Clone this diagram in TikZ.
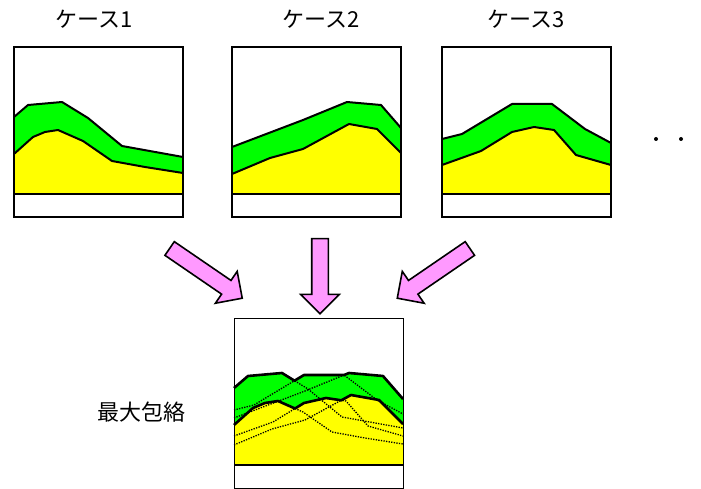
\documentclass[tikz,border=0pt]{standalone}
\usepackage{fontspec}
\newfontfamily\jpfont{Noto Sans CJK JP}
\usepackage{tikz}
\usetikzlibrary{shapes.arrows}
\definecolor{lime}{RGB}{0, 255, 0}
\definecolor{lemon}{RGB}{255, 255, 0}
\definecolor{rose}{RGB}{255, 153, 255}

% curves of each case, relative to the panel's top left corner
\def\greenone{(0,70) -- (14,58) -- (48,55) -- (74,71) -- (108,99) -- (169,110)}
\def\yellowone{(0,107) -- (19,90) -- (31,85) -- (44,83) -- (69,94) -- (98,114) -- (131,120) -- (169,126)}
\def\greentwo{(0,100) -- (71,73) -- (115,55) -- (149,58) -- (169,81)}
\def\yellowtwo{(0,127) -- (38,111) -- (71,102) -- (117,77) -- (145,82) -- (169,106)}
\def\greenthree{(0,92) -- (20,87) -- (70,57) -- (110,57) -- (143,82) -- (169,96)}
\def\yellowthree{(0,118) -- (39,104) -- (70,85) -- (92,80) -- (112,83) -- (134,108) -- (169,118)}
% upper envelopes
\def\greenmax{(0,70) -- (14,58) -- (48,55) -- (60.5,62.7) -- (70,57) -- (110,57) -- (115,55) -- (149,58) -- (169,81)}
\def\yellowmax{(0,107) -- (19,90) -- (31,85) -- (44,83) -- (61,90.5) -- (70,85) -- (92,80) -- (107.3,82.3) -- (117,77) -- (145,82) -- (169,106)}

\begin{document}
\begin{tikzpicture}[x=1pt, y=-1pt,
    curve/.style={line width=2pt, line join=round},
    envelope/.style={line width=2.6pt, line join=round},
    trace/.style={line width=1.3pt, dash pattern=on 1.3pt off 1.3pt},
    panel/.style={draw, line width=2pt, minimum width=169pt, minimum height=170pt, inner sep=0},
    caption/.style={font=\jpfont\fontsize{22}{26}\selectfont},
    bigarrow/.style={single arrow, draw, fill=rose, line width=1.6pt, inner sep=0, inner ysep=7.5pt,
      single arrow head extend=11pt, single arrow head indent=0pt}]

  \useasboundingbox (0,0) rectangle (701,489);

  % case 1
  \begin{scope}[shift={(14,47)}]
    \fill[lime] (0,147) -- \greenone -- (169,147) -- cycle;
    \fill[lemon] (0,147) -- \yellowone -- (169,147) -- cycle;
    \draw[curve] \greenone;
    \draw[curve] \yellowone;
    \draw[curve] (0,147) -- (169,147);
    \node[panel] (case1) at (84.5,85) {};
  \end{scope}
  \node[caption] (label1) at (94,19) {ケース1};

  % case 2
  \begin{scope}[shift={(232,47)}]
    \fill[lime] (0,147) -- \greentwo -- (169,147) -- cycle;
    \fill[lemon] (0,147) -- \yellowtwo -- (169,147) -- cycle;
    \draw[curve] \greentwo;
    \draw[curve] \yellowtwo;
    \draw[curve] (0,147) -- (169,147);
    \node[panel] (case2) at (84.5,85) {};
  \end{scope}
  \node[caption] (label2) at (321,19) {ケース2};

  % case 3
  \begin{scope}[shift={(442,47)}]
    \fill[lime] (0,147) -- \greenthree -- (169,147) -- cycle;
    \fill[lemon] (0,147) -- \yellowthree -- (169,147) -- cycle;
    \draw[curve] \greenthree;
    \draw[curve] \yellowthree;
    \draw[curve] (0,147) -- (169,147);
    \node[panel] (case3) at (84.5,85) {};
  \end{scope}
  \node[caption] (label3) at (526,19) {ケース3};

  \fill (656,139) circle (2);
  \fill (681,139) circle (2);

  % arrows
  \node[bigarrow, rotate=-34.4, minimum height=88pt] (arrow1) at (202.5,271) {};
  \node[bigarrow, rotate=-90, minimum height=75pt] (arrow2) at (320,272) {};
  \node[bigarrow, rotate=-145.6, minimum height=88pt] (arrow3) at (437,271) {};

  % maximum envelope
  \begin{scope}[shift={(234,318)}]
    \fill[lime] (0,147) -- \greenmax -- (169,147) -- cycle;
    \fill[lemon] (0,147) -- \yellowmax -- (169,147) -- cycle;
    \draw[trace] \greenone;   \draw[trace] \yellowone;
    \draw[trace] \greentwo;   \draw[trace] \yellowtwo;
    \draw[trace] \greenthree; \draw[trace] \yellowthree;
    \draw[envelope] \greenmax;
    \draw[envelope] \yellowmax;
    \draw[envelope] (0,147) -- (169,147);
    \node[panel, line width=0.8pt] (result) at (84.5,85) {};
  \end{scope}
  \node[caption] (label4) at (141,412) {最大包絡};

\end{tikzpicture}
\end{document}
